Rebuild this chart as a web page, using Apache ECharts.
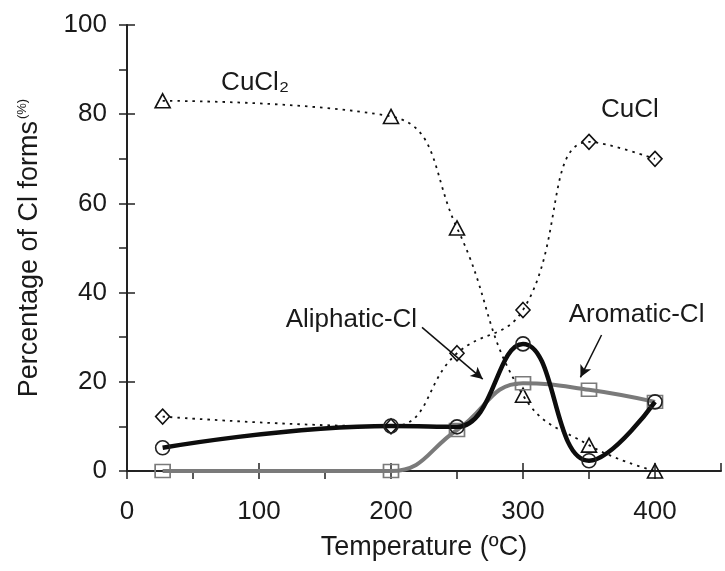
<!DOCTYPE html>
<html>
<head>
<meta charset="utf-8">
<script src="https://cdn.jsdelivr.net/npm/echarts@6/dist/echarts.min.js"></script>
<style>
  html, body { margin: 0; padding: 0; background: #fff; }
  #chart { width: 725px; height: 571px; }
</style>
</head>
<body>
<div id="chart"></div>
<script>
// Temperatures (°C) at which the chlorine forms were measured
const temperatures = [27, 200, 250, 300, 350, 400];
// Percentage of each Cl form
const cucl2Values     = [83, 79.5, 54.5, 17, 5.8, 0];
const cuclValues      = [12.2, 10, 26.4, 36.1, 73.8, 70];
const aliphaticValues = [5.2, 10.1, 9.9, 28.5, 2.3, 15.5];
const aromaticValues  = [0, 0, 9.2, 19.7, 18.2, 15.5];

// Axis tick labels
const xTickLabels = [0, 100, 200, 300, 400];
const yTickLabels = [0, 20, 40, 60, 80, 100];

const FONT = "'Liberation Sans', Arial, sans-serif";
const TEXT = '#1a1a1a';
const AXIS = '#222';

const pairs = (vals) => temperatures.map((t, i) => [t, vals[i]]);

// In-plot annotation anchors, in data coordinates
const notes = {
  cucl2:     { at: [97, 87],   text: 'CuCl\u2082' },
  cucl:      { at: [381, 81],  text: 'CuCl' },
  aliphatic: { at: [170, 34],  text: 'Aliphatic-Cl', from: [223.5, 32.2], to: [269.5, 20.6] },
  aromatic:  { at: [386, 35],  text: 'Aromatic-Cl',  from: [359.5, 30.5], to: [343.5, 21.0] }
};

const noteLabel = (n) => ({
  coord: n.at,
  symbol: 'circle',
  symbolSize: 0,
  label: {
    show: true,
    position: 'inside',
    formatter: n.text,
    fontFamily: FONT,
    fontSize: 26,
    color: TEXT
  }
});

const leader = (n) => [
  { coord: n.from, symbol: 'none' },
  { coord: n.to, symbol: 'arrow', symbolSize: [9, 12] }
];

const chart = echarts.init(document.getElementById('chart'), null, { renderer: 'canvas' });

const baseXAxis = {
  type: 'value', min: 0, max: 450, position: 'bottom', gridIndex: 0
};
const baseYAxis = {
  type: 'value', min: 0, max: 100, position: 'left', gridIndex: 0
};

chart.setOption({
  animation: false,
  backgroundColor: '#fff',
  grid: { left: 127, right: 4, top: 25, bottom: 100, containLabel: false, outerBoundsMode: 'none' },
  xAxis: [
    Object.assign({}, baseXAxis, {
      interval: 50,
      axisLine: { show: true, lineStyle: { color: AXIS, width: 2 } },
      axisTick: { show: true, inside: false, length: 8, lineStyle: { color: AXIS, width: 1.5 } },
      axisLabel: {
        show: true, margin: 28, fontFamily: FONT, fontSize: 26, color: TEXT,
        showMaxLabel: false,
        formatter: (v) => (xTickLabels.indexOf(v) >= 0 ? String(v) : '')
      },
      splitLine: { show: false },
      name: 'Temperature (\u00BAC)',
      nameLocation: 'middle',
      nameGap: 63,
      nameTextStyle: { fontFamily: FONT, fontSize: 27, color: TEXT }
    }),
    Object.assign({}, baseXAxis, {
      interval: 100,
      axisLine: { show: false },
      axisTick: { show: true, inside: true, length: 8, lineStyle: { color: AXIS, width: 1.5 } },
      axisLabel: { show: false },
      splitLine: { show: false }
    })
  ],
  yAxis: [
    Object.assign({}, baseYAxis, {
      interval: 10,
      axisLine: { show: true, lineStyle: { color: AXIS, width: 2 } },
      axisTick: { show: true, inside: false, length: 8, lineStyle: { color: AXIS, width: 1.5 } },
      axisLabel: {
        show: true, margin: 20, fontFamily: FONT, fontSize: 26, color: TEXT,
        formatter: (v) => (yTickLabels.indexOf(v) >= 0 ? String(v) : '')
      },
      splitLine: { show: false },
      name: '{t|Percentage of Cl forms}{s|(%)}',
      nameLocation: 'middle',
      nameRotate: 90,
      nameGap: 84,
      nameTextStyle: {
        fontFamily: FONT, fontSize: 27, color: TEXT,
        rich: {
          t: { fontFamily: FONT, fontSize: 27, color: TEXT },
          s: { fontFamily: FONT, fontSize: 13, color: TEXT, verticalAlign: 'top', padding: [0, 0, 0, 2] }
        }
      }
    }),
    Object.assign({}, baseYAxis, {
      interval: 20,
      axisLine: { show: false },
      axisTick: { show: true, inside: true, length: 8, lineStyle: { color: AXIS, width: 1.5 } },
      axisLabel: { show: false },
      splitLine: { show: false }
    })
  ],
  series: [
    {
      name: 'CuCl2', type: 'line', xAxisIndex: 0, yAxisIndex: 0,
      data: pairs(cucl2Values), smooth: 0.45,
      symbol: 'triangle', symbolSize: [15, 14],
      lineStyle: { color: '#111', width: 1.8, type: [2.5, 5] },
      itemStyle: { color: 'rgba(255,255,255,0)', borderColor: '#111', borderWidth: 1.6 },
      markPoint: { silent: true, data: [noteLabel(notes.cucl2)] },
      z: 2
    },
    {
      name: 'CuCl', type: 'line', xAxisIndex: 0, yAxisIndex: 0,
      data: pairs(cuclValues), smooth: 0.45,
      symbol: 'diamond', symbolSize: [14, 15],
      lineStyle: { color: '#111', width: 1.8, type: [2.5, 5] },
      itemStyle: { color: 'rgba(255,255,255,0)', borderColor: '#111', borderWidth: 1.6 },
      markPoint: { silent: true, data: [noteLabel(notes.cucl)] },
      z: 2
    },
    {
      name: 'Aromatic-Cl', type: 'line', xAxisIndex: 0, yAxisIndex: 0,
      data: pairs(aromaticValues), smooth: 0.45,
      symbol: 'rect', symbolSize: [15, 13],
      lineStyle: { color: '#7a7a7a', width: 4 },
      itemStyle: { color: 'rgba(255,255,255,0)', borderColor: '#7a7a7a', borderWidth: 1.6 },
      markPoint: { silent: true, data: [noteLabel(notes.aromatic)] },
      markLine: {
        silent: true, symbol: ['none', 'arrow'],
        label: { show: false },
        lineStyle: { color: '#111', width: 1.5, type: 'solid' },
        data: [leader(notes.aromatic)]
      },
      z: 3
    },
    {
      name: 'Aliphatic-Cl', type: 'line', xAxisIndex: 0, yAxisIndex: 0,
      data: pairs(aliphaticValues), smooth: 0.45,
      symbol: 'circle', symbolSize: 14,
      lineStyle: { color: '#0d0d0d', width: 4.5 },
      itemStyle: { color: 'rgba(255,255,255,0)', borderColor: '#222', borderWidth: 1.6 },
      markPoint: { silent: true, data: [noteLabel(notes.aliphatic)] },
      markLine: {
        silent: true, symbol: ['none', 'arrow'],
        label: { show: false },
        lineStyle: { color: '#111', width: 1.5, type: 'solid' },
        data: [leader(notes.aliphatic)]
      },
      z: 4
    }
  ]
});
</script>
</body>
</html>
